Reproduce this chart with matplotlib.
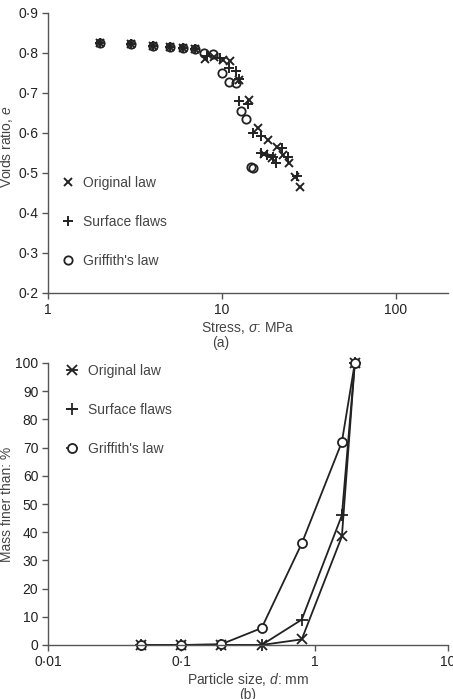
import matplotlib.pyplot as plt
from matplotlib.ticker import FixedLocator, FuncFormatter, NullLocator

plt.rcParams['font.family'] = ['Liberation Sans', 'DejaVu Sans']
plt.rcParams['font.size'] = 10
plt.rcParams['mathtext.fontset'] = 'custom'
plt.rcParams['mathtext.it'] = 'Liberation Sans:italic'
plt.rcParams['mathtext.rm'] = 'Liberation Sans'

INK = '#222222'
GREY = '#444444'

# (a) voids ratio vs stress
stress_orig = [2, 3, 4, 5, 6, 7, 8, 9, 10.1, 11.1, 12.5, 14.3, 16.1, 17.5, 18.4,
               19.5, 20.8, 22.5, 24.4, 26.4, 28.2]
e_orig = [0.825, 0.822, 0.818, 0.815, 0.812, 0.809, 0.785, 0.79, 0.782, 0.78, 0.732,
          0.682, 0.612, 0.548, 0.582, 0.538, 0.565, 0.545, 0.525, 0.49, 0.465]

stress_flaws = [2, 3, 4, 5, 6, 7, 8.2, 9.8, 11.0, 12.0, 12.5, 12.5, 14.1, 15.1, 16.8,
                16.8, 18.2, 19.7, 20.5, 22.2, 24.0, 27.0]
e_flaws = [0.825, 0.822, 0.818, 0.815, 0.812, 0.809, 0.792, 0.788, 0.763, 0.755, 0.735,
           0.68, 0.673, 0.6, 0.593, 0.55, 0.545, 0.54, 0.525, 0.563, 0.54, 0.492]

stress_griff = [2, 3, 4, 5, 6, 7, 7.9, 8.9, 10.0, 11.0, 12.0, 12.9, 13.8, 14.7, 15.1]
e_griff = [0.825, 0.822, 0.818, 0.815, 0.812, 0.809, 0.80, 0.797, 0.75, 0.728, 0.725,
           0.655, 0.635, 0.515, 0.512]

# (b) grading curves
size_mm = [0.05, 0.1, 0.2, 0.4, 0.8, 1.6, 2.0]
finer_orig = [0, 0, 0, 0, 2, 38.5, 100]
finer_flaws = [0, 0, 0, 0, 9, 46, 100]
finer_griff = [0, 0, 0.3, 6, 36, 72, 100]

labels = ['Original law', 'Surface flaws', "Griffith's law"]

W, H = 453, 699
fig = plt.figure(figsize=(W / 100, H / 100), dpi=100)


def fpos(x0, y0, x1, y1):
    return [x0 / W, 1 - y1 / H, (x1 - x0) / W, (y1 - y0) / H]


def style(ax):
    for s in ['top', 'right']:
        ax.spines[s].set_visible(False)
    for s in ['left', 'bottom']:
        ax.spines[s].set_color('#555555')
        ax.spines[s].set_linewidth(1.0)
    ax.tick_params(direction='out', length=4, width=1.0, color='#555555',
                   labelcolor=INK, labelsize=10, pad=3)
    ax.xaxis.set_minor_locator(NullLocator())


dot = FuncFormatter(lambda v, p: ('%g' % v).replace('.', '\u00b7'))

# ---- top panel
ax1 = fig.add_axes(fpos(48, 13, 448, 293))
ax1.set_xscale('log')
ax1.set_xlim(1, 200)
ax1.set_ylim(0.2, 0.9)
ax1.xaxis.set_major_locator(FixedLocator([1, 10, 100]))
ax1.xaxis.set_major_formatter(FuncFormatter(lambda v, p: '%g' % v))
ax1.yaxis.set_major_locator(FixedLocator([0.2, 0.3, 0.4, 0.5, 0.6, 0.7, 0.8, 0.9]))
ax1.yaxis.set_major_formatter(dot)
style(ax1)

ax1.plot(stress_orig, e_orig, ls='none', marker='x', ms=6, mew=1.4, color=INK,
         label=labels[0])
ax1.plot(stress_flaws, e_flaws, ls='none', marker='+', ms=6.5, mew=1.4, color=INK,
         label=labels[1])
ax1.plot(stress_griff, e_griff, ls='none', marker='o', ms=6, mew=1.3, mfc='none',
         color=INK, label=labels[2])

ax1.legend(loc='upper left', bbox_to_anchor=(61 / W, 1 - 176 / H),
           bbox_transform=fig.transFigure, frameon=False, borderpad=0,
           borderaxespad=0, handlelength=1.0, handletextpad=0.6,
           labelspacing=1.8, numpoints=1, labelcolor=GREY, fontsize=10)

ax1.set_xlabel('Stress, $\\mathit{\\sigma}$: MPa', color=GREY, labelpad=2)
fig.text(7 / W, 1 - 147 / H, 'Voids ratio, $\\mathit{e}$', rotation=90,
         ha='center', va='center', color=GREY, fontsize=10)
fig.text(221 / W, 1 - 343 / H, '(a)', ha='center', va='center', color=GREY, fontsize=10)

# ---- bottom panel
ax2 = fig.add_axes(fpos(48, 363, 448, 645))
ax2.set_xscale('log')
ax2.set_xlim(0.01, 10)
ax2.set_ylim(0, 100)
ax2.xaxis.set_major_locator(FixedLocator([0.01, 0.1, 1, 10]))
ax2.xaxis.set_major_formatter(dot)
ax2.yaxis.set_major_locator(FixedLocator(list(range(0, 101, 10))))
style(ax2)

ax2.plot(size_mm, finer_orig, marker='x', ms=7, mew=1.3, lw=1.3, color=INK,
         label=labels[0], clip_on=False)
ax2.plot(size_mm, finer_flaws, marker='+', ms=8, mew=1.3, lw=1.3, color=INK,
         label=labels[1], clip_on=False)
ax2.plot(size_mm, finer_griff, marker='o', ms=6.5, mew=1.3, mfc='white', lw=1.3,
         color=INK, label=labels[2], clip_on=False)

ax2.legend(loc='upper left', bbox_to_anchor=(67 / W, 1 - 364 / H),
           bbox_transform=fig.transFigure, frameon=False, borderpad=0,
           borderaxespad=0, handlelength=0.7, handletextpad=0.8,
           labelspacing=1.8, numpoints=1, labelcolor=GREY, fontsize=10)

ax2.set_xlabel('Particle size, $\\mathit{d}$: mm', color=GREY, labelpad=2)
fig.text(7 / W, 1 - 504 / H, 'Mass finer than: %', rotation=90,
         ha='center', va='center', color=GREY, fontsize=10)
fig.text(248 / W, 1 - 695 / H, '(b)', ha='center', va='center', color=GREY, fontsize=10)

fig.savefig('out.png', dpi=100)
